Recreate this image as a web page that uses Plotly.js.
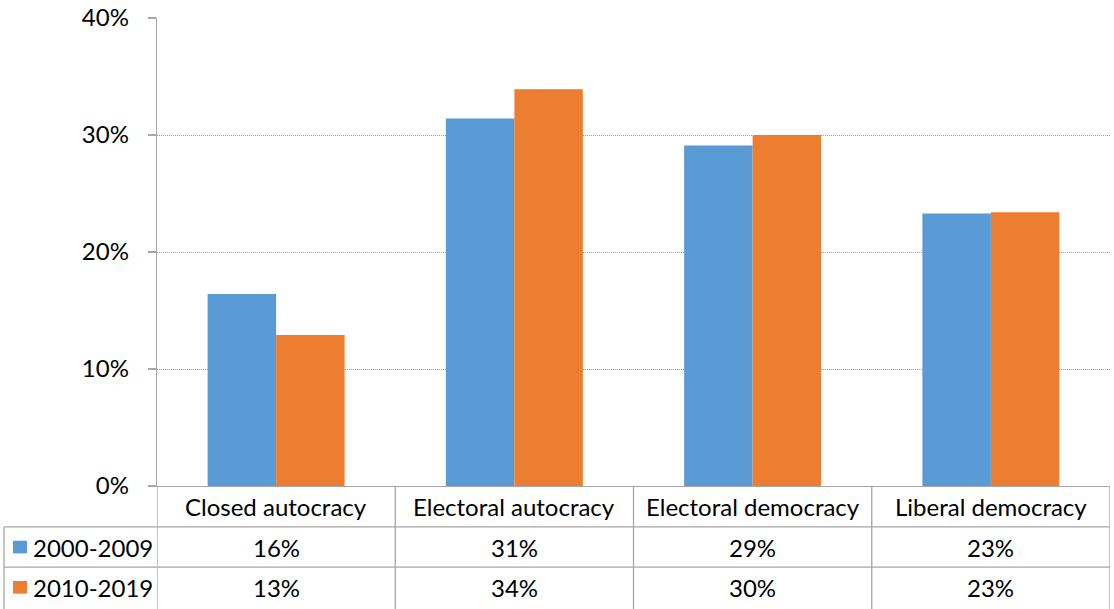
<!DOCTYPE html>
<html>
<head>
<meta charset="utf-8">
<script src="https://cdn.plot.ly/plotly-3.0.1.min.js"></script>
<style>
html,body{margin:0;padding:0;background:#fff;}
#chart{width:1114px;height:609px;}
</style>
</head>
<body>
<div id="chart"></div>
<script>
// ---- data ----
const categories = ["Closed autocracy", "Electoral autocracy", "Electoral democracy", "Liberal democracy"];
const seriesNames = ["2000-2009", "2010-2019"];
const values2000 = [16.4, 31.4, 29.1, 23.3];
const values2010 = [12.9, 33.9, 30.0, 23.4];
const yTickVals = [0, 10, 20, 30, 40];
const yTickText = ["0%", "10%", "20%", "30%", "40%"];

const colors = ["#5B9BD5", "#ED7D31"];
const lineCol = "#A6A6A6";
const FONT = "Lato, 'Open Sans', sans-serif";
const FS = 24;

const seriesValues = [values2000, values2010];
const idx = categories.map((c, i) => i);

const traces = seriesValues.map((vals, s) => ({
  type: "bar",
  x: idx,
  y: vals,
  name: seriesNames[s],
  marker: {color: colors[s], line: {width: 0}},
  hoverinfo: "skip"
}));

// table geometry (paper coords relative to plot area)
const leftX = -0.1605;       // left edge of legend column
const rowY = [0, -0.0875, -0.1735, -0.27];
const textY = [-0.0435, -0.1305, -0.2165];

const shapes = [];
const annotations = [];

// vertical lines at category boundaries
for (let i = 0; i <= categories.length; i++) {
  shapes.push({type: "line", xref: "x", yref: "paper", x0: i - 0.5, x1: i - 0.5,
    y0: 0, y1: rowY[3], line: {color: lineCol, width: 1.3}});
}
// left legend column vertical line
shapes.push({type: "line", xref: "paper", yref: "paper", x0: leftX, x1: leftX,
  y0: rowY[1], y1: rowY[3], line: {color: lineCol, width: 1.3}});
// horizontal row lines
[rowY[1], rowY[2]].forEach(y => {
  shapes.push({type: "line", xref: "paper", yref: "paper", x0: leftX, x1: 1,
    y0: y, y1: y, line: {color: lineCol, width: 1.3}});
});

// category headers
categories.forEach((c, i) => {
  annotations.push({xref: "x", yref: "paper", x: i, y: textY[0], text: c,
    showarrow: false, xanchor: "center", yanchor: "middle",
    font: {family: FONT, size: FS, color: "#000"}});
});
// values rows + legend keys
seriesValues.forEach((vals, s) => {
  vals.forEach((v, i) => {
    annotations.push({xref: "x", yref: "paper", x: i, y: textY[s + 1],
      text: Math.round(v) + "%", showarrow: false, xanchor: "center", yanchor: "middle",
      font: {family: FONT, size: FS, color: "#000"}});
  });
  annotations.push({xref: "paper", yref: "paper", x: -0.1325, y: textY[s + 1],
    text: seriesNames[s], showarrow: false, xanchor: "left", yanchor: "middle",
    font: {family: FONT, size: FS, color: "#000"}});
  shapes.push({type: "rect", xref: "paper", yref: "paper",
    x0: -0.1511, x1: -0.1364,
    y0: textY[s + 1] + 0.0135, y1: textY[s + 1] - 0.0135,
    fillcolor: colors[s], line: {width: 0}});
});

const layout = {
  width: 1114, height: 609,
  margin: {l: 157, r: 4, t: 18, b: 122.5, pad: 0},
  paper_bgcolor: "#fff", plot_bgcolor: "#fff",
  showlegend: false,
  barmode: "group",
  bargap: 0.425,
  bargroupgap: 0,
  font: {family: FONT, size: FS, color: "#000"},
  xaxis: {
    type: "linear", range: [-0.5, 3.5], showticklabels: false,
    showgrid: false, zeroline: false, ticks: "",
    showline: true, linecolor: lineCol, linewidth: 1.3, fixedrange: true
  },
  yaxis: {
    range: [0, 40], tickvals: yTickVals, ticktext: yTickText,
    showgrid: true, gridcolor: "#9A9A9A", griddash: "1px,1px", gridwidth: 1,
    zeroline: false, showline: true, linecolor: lineCol, linewidth: 1.3,
    ticks: "outside", ticklen: 8, tickcolor: lineCol, tickwidth: 1.3,
    ticklabelstandoff: 14,
    tickfont: {family: FONT, size: FS, color: "#000"}, fixedrange: true
  },
  shapes: shapes,
  annotations: annotations
};

Plotly.newPlot("chart", traces, layout, {displayModeBar: false, staticPlot: true});
</script>
</body>
</html>
